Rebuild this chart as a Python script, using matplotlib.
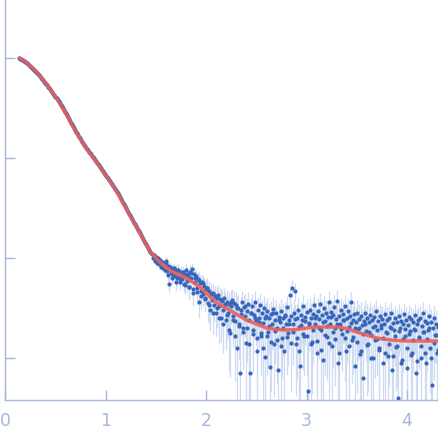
import numpy as np
import matplotlib
matplotlib.use("Agg")
import matplotlib.pyplot as plt

# scattering vector grid (start, step) for the main series
q_start, q_step, n_pts = 0.14, 0.01, 418
# interleaved high-q points (start, step)
q2_start, q2_step = 1.605, 0.02

# log10 intensity
logI_low_q = [
    0.00, -0.005, -0.01, -0.015, -0.02, -0.03, -0.035, -0.04, -0.05, -0.06,
    -0.07, -0.075, -0.085, -0.095, -0.105, -0.115, -0.125, -0.135, -0.145, -0.155,
    -0.17, -0.18, -0.195, -0.205, -0.22, -0.235, -0.245, -0.26, -0.27, -0.285,
    -0.30, -0.31, -0.325, -0.34, -0.355, -0.37, -0.385, -0.40, -0.415, -0.43,
    -0.445, -0.465, -0.48, -0.50, -0.515, -0.535, -0.55, -0.57, -0.59, -0.605,
    -0.625, -0.645, -0.66, -0.68, -0.70, -0.715, -0.735, -0.75, -0.77, -0.785,
    -0.80, -0.82, -0.835, -0.85, -0.865, -0.88, -0.895, -0.91, -0.92, -0.935,
    -0.95, -0.96, -0.975, -0.99, -1.00, -1.015, -1.03, -1.045, -1.06, -1.07,
    -1.085, -1.10, -1.115, -1.13, -1.145, -1.16, -1.175, -1.19, -1.20, -1.215,
    -1.23, -1.245, -1.26, -1.275, -1.29, -1.305, -1.32, -1.335, -1.35, -1.37,
    -1.39, -1.405, -1.425, -1.445, -1.46, -1.48, -1.50, -1.52, -1.535, -1.555,
    -1.57, -1.59, -1.61, -1.625, -1.645, -1.66, -1.68, -1.695, -1.715, -1.73,
    -1.75, -1.77, -1.785, -1.805, -1.825, -1.845, -1.86, -1.88, -1.90, -1.92,
    -1.935, -1.95,
]
logI_high_q = [
    -1.96, -2.00, -1.97, -2.03, -1.99, -2.05, -2.00, -2.06, -2.02, -2.09,
    -2.04, -2.10, -2.05, -2.12, -2.06, -2.13, -2.08, -2.26, -2.09, -2.15,
    -2.11, -2.17, -2.10, -2.18, -2.13, -2.20, -2.12, -2.19, -2.24, -2.14,
    -2.21, -2.16, -2.26, -2.17, -2.12, -2.23, -2.18, -2.29, -2.14, -2.20,
    -2.11, -2.35, -2.16, -2.24, -2.18, -2.30, -2.21, -2.44, -2.25, -2.33,
    -2.24, -2.36, -2.28, -2.40, -2.31, -2.30, -2.45, -2.33, -2.52, -2.36,
    -2.42, -2.35, -2.47, -2.38, -2.55, -2.40, -2.37, -2.48, -2.41, -2.60,
    -2.43, -2.52, -2.40, -2.47, -2.62, -2.44, -2.55, -2.46, -2.75, -2.48,
    -2.42, -2.58, -2.45, -2.63, -2.47, -2.90, -2.50, -2.66, -3.15, -2.52,
    -2.44, -2.70, -2.49, -2.58, -2.85, -2.53, -2.46, -2.62, -3.15, -2.55,
    -2.48, -2.72, -2.57, -2.44, -2.62, -2.93, -2.52, -2.60, -2.47, -2.78,
    -2.55, -2.65, -2.50, -2.99, -2.58, -2.53, -2.74, -2.60, -3.09, -2.56,
    -2.66, -2.51, -2.86, -2.62, -2.55, -2.70, -3.12, -2.59, -2.64, -2.53,
    -2.80, -2.60, -2.93, -2.57, -2.66, -2.49, -2.75, -2.62, -2.37, -2.58,
    -2.30, -2.66, -2.55, -2.33, -2.86, -2.60, -2.52, -2.69, -3.08, -2.57,
    -2.62, -2.48, -2.78, -2.59, -2.54, -3.33, -2.65, -2.52, -2.60, -2.84,
    -2.56, -2.47, -2.66, -2.58, -2.95, -2.53, -2.61, -2.46, -2.72, -2.57,
    -3.02, -2.50, -2.63, -2.55, -2.79, -2.59, -2.44, -2.66, -2.54, -2.88,
    -2.57, -2.49, -2.70, -2.61, -2.43, -3.05, -2.58, -2.66, -2.52, -2.76,
    -2.56, -2.62, -2.48, -2.93, -2.60, -2.53, -2.69, -2.58, -2.44, -2.82,
    -2.62, -2.56, -3.08, -2.64, -2.55, -2.71, -2.61, -2.96, -2.58, -2.67,
    -3.20, -2.63, -2.55, -2.73, -2.60, -2.86, -2.64, -2.57, -2.77, -2.62,
    -3.00, -2.59, -2.68, -2.53, -2.81, -2.63, -2.92, -2.58, -2.70, -2.61,
    -3.05, -2.66, -2.56, -2.74, -2.62, -2.98, -2.60, -2.69, -2.55, -3.12,
    -2.65, -2.72, -2.60, -2.89, -2.64, -3.40, -2.58, -2.70, -2.63, -3.02,
    -2.66, -2.56, -2.78, -2.62, -3.10, -2.67, -2.59, -2.73, -2.61, -2.95,
    -2.64, -2.71, -2.57, -3.15, -2.66, -2.62, -2.80, -2.60, -3.00, -2.68,
    -2.55, -2.74, -2.63, -3.05, -2.65, -2.72, -2.58, -2.90, -2.64, -3.27,
    -2.70, -2.60, -2.77, -2.66, -2.95, -2.69,
]
logI_interleaved = [
    -2.03, -2.17, -2.09, -2.20, -2.10, -2.24, -2.12, -2.21, -2.14, -2.27,
    -2.16, -2.29, -2.15, -2.31, -2.20, -2.34, -2.22, -2.38, -2.25, -2.41,
    -2.30, -2.47, -2.36, -2.55, -2.38, -2.50, -2.60, -2.42, -2.66, -2.46,
    -2.57, -2.72, -2.44, -2.62, -2.78, -2.50, -2.68, -2.56, -2.74, -2.48,
    -2.70, -2.86, -2.55, -2.76, -2.60,
    -2.80, -2.64, -2.75, -2.90, -2.60, -2.78, -2.68, -2.84, -2.55, -2.73,
    -2.82, -2.62, -2.88, -2.70, -2.58, -2.79, -2.66, -2.85, -2.74, -2.61,
    -2.80, -2.93, -2.67, -2.76, -2.63,
    -2.78, -2.66, -2.86, -2.72, -2.60, -2.83, -2.70, -2.92, -2.64, -2.77,
    -2.68, -2.85, -2.59, -2.74, -2.81, -2.66, -2.95, -2.71, -2.62, -2.80,
    -2.73, -2.88, -2.65, -2.79, -2.70,
    -2.84, -2.70, -2.93, -2.76, -2.66, -2.87, -2.74, -3.00, -2.69, -2.82,
    -2.72, -2.90, -2.67, -2.80, -2.95, -2.75, -2.86, -2.70, -2.98, -2.78,
    -2.88, -2.73, -3.05, -2.81, -2.71,
    -2.90, -2.76, -2.97, -2.82, -2.72, -3.03, -2.79, -2.88, -2.74, -2.95,
    -2.81, -2.70, -3.00, -2.85, -2.77, -2.92,
]

# relative error per 0.1-wide q bin (bin index = int(q*10))
rel_err_bins = [
    0.004, 0.004, 0.004, 0.004, 0.005, 0.005, 0.006, 0.007, 0.008, 0.010,
    0.012, 0.015, 0.020, 0.030, 0.050, 0.080, 0.120, 0.150, 0.200, 0.220,
    0.280, 0.320, 0.380, 0.420, 0.450, 0.480, 0.500, 0.500, 0.500, 0.500,
    0.500, 0.500, 0.500, 0.500, 0.500, 0.550, 0.550, 0.550, 0.550, 0.550,
    0.550, 0.550, 0.550, 0.550,
]

# fitted model curve
fit_q = [0.14, 0.2, 0.3, 0.4, 0.5, 0.6, 0.7, 0.8, 0.9, 1.0, 1.1, 1.2, 1.3, 1.4,
         1.45, 1.5, 1.55, 1.6, 1.65, 1.7, 1.75, 1.8, 1.85, 1.9, 1.95, 2.0, 2.05,
         2.1, 2.15, 2.2, 2.25, 2.3, 2.4, 2.5, 2.6, 2.7, 2.8, 2.9, 3.0, 3.1, 3.2,
         3.3, 3.4, 3.5, 3.6, 3.7, 3.8, 3.9, 4.0, 4.1, 4.2, 4.31]
fit_logI = [0.00, -0.035, -0.125, -0.245, -0.385, -0.55, -0.735, -0.895, -1.03,
            -1.175, -1.32, -1.50, -1.68, -1.86, -1.945, -2.00, -2.05, -2.09,
            -2.13, -2.155, -2.175, -2.20, -2.23, -2.265, -2.30, -2.35, -2.40,
            -2.44, -2.475, -2.50, -2.53, -2.56, -2.62, -2.66, -2.70, -2.715,
            -2.72, -2.715, -2.70, -2.69, -2.69, -2.69, -2.705, -2.74, -2.77,
            -2.80, -2.815, -2.825, -2.83, -2.83, -2.83, -2.83]

x_ticks = [0, 1, 2, 3, 4]
y_ticks = [1, 0.1, 0.01, 0.001]

# ---------------------------------------------------------------
logI1 = np.array(logI_low_q + logI_high_q)
n1 = min(n_pts, len(logI1))
q1 = q_start + q_step * np.arange(n1)
q2 = q2_start + q2_step * np.arange(len(logI_interleaved))
q = np.concatenate([q1, q2])
logI = np.concatenate([logI1[:n1], np.array(logI_interleaved)])
I = 10.0 ** logI

fq = np.array(fit_q)
fI = 10.0 ** np.array(fit_logI)
I_model_at_q = 10.0 ** np.interp(q, fq, np.array(fit_logI))
bins = np.clip((q * 10 + 1e-9).astype(int), 0, len(rel_err_bins) - 1)
sigma = np.array(rel_err_bins)[bins] * I_model_at_q
lo = np.maximum(I - sigma, 1e-6)
hi = I + sigma

axis_col = "#a6b7dc"
fig = plt.figure(figsize=(4.38, 4.38), dpi=100)
ax = fig.add_axes([5.3 / 438, 38 / 438, (438 - 5.3) / 438, 400 / 438])
ax.set_yscale("log")

ax.vlines(q, lo, hi, colors="#cfdbf0", linewidth=0.9, zorder=1)
ax.plot(q, I, "o", color="#3566bb", markersize=3.0, markeredgewidth=0, zorder=2)
ax.plot(fq, fI, "-", color="#ea5f5a", linewidth=2.5, alpha=0.9, zorder=3,
        solid_capstyle="round")

ax.set_xlim(0, (438 - 5.3) / 100.4)
ax.set_ylim(10 ** -3.42, 10 ** 0.58)
ax.set_xticks(x_ticks)
ax.set_xticklabels([str(t) for t in x_ticks])
ax.set_yticks(y_ticks)
ax.set_yticklabels([])
ax.yaxis.set_minor_locator(matplotlib.ticker.NullLocator())
ax.xaxis.set_minor_locator(matplotlib.ticker.NullLocator())

for s in ["top", "right"]:
    ax.spines[s].set_visible(False)
for s in ["left", "bottom"]:
    ax.spines[s].set_color(axis_col)
    ax.spines[s].set_linewidth(1.0)
ax.tick_params(axis="both", direction="in", length=7, width=1.0,
               color=axis_col, labelcolor=axis_col, labelsize=12.5)
ax.tick_params(axis="x", pad=9)
ax.patch.set_alpha(0)

fig.savefig("out.png", dpi=100)
